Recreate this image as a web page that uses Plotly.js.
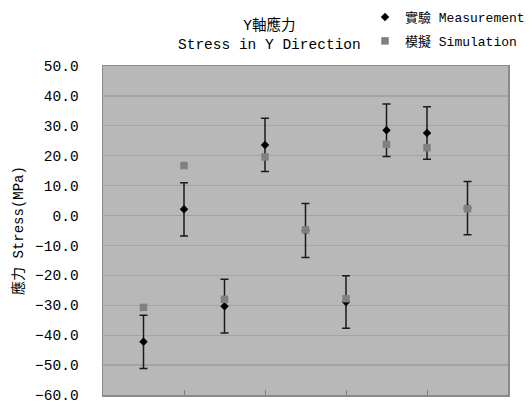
<!DOCTYPE html>
<html>
<head>
<meta charset="utf-8">
<script src="https://cdn.plot.ly/plotly-3.0.1.min.js"></script>
<style>html,body{margin:0;padding:0;background:#fff;}#chart{width:529px;height:405px;}</style>
</head>
<body>
<div id="chart"></div>
<script>
const positions = [1, 2, 3, 4, 5, 6, 7, 8, 9];
const measurement = [-42.2, 2.1, -30.3, 23.6, -5.0, -28.9, 28.5, 27.6, 2.5];
const measurementError = [8.9, 8.9, 9.0, 8.9, 9.0, 8.8, 8.8, 8.8, 8.9];
const simulation = [-30.7, 16.7, -28.0, 19.6, -4.8, -27.8, 23.8, 22.7, 2.3];
const yTicks = [-60, -50, -40, -30, -20, -10, 0, 10, 20, 30, 40, 50];
const xTicks = [0, 2, 4, 6, 8, 10];

const FONT = '"Liberation Mono", "Noto Sans CJK TC", monospace';

const traces = [
  {
    x: positions, y: measurement, name: '實驗 Measurement',
    type: 'scatter', mode: 'markers',
    marker: {symbol: 'diamond', size: 6.5, color: '#000000'},
    error_y: {type: 'data', array: measurementError, visible: true, color: '#1a1a1a', thickness: 1.5, width: 4},
    legendgroup: 'a'
  },
  {
    x: positions, y: simulation, name: '模擬 Simulation',
    type: 'scatter', mode: 'markers',
    marker: {symbol: 'square', size: 7.5, color: '#808080'},
    legendgroup: 'b'
  }
];

const layout = {
  width: 529, height: 405,
  margin: {l: 103, r: 21, t: 66, b: 10, autoexpand: false},
  paper_bgcolor: '#ffffff',
  plot_bgcolor: '#b8b8b8',
  font: {family: FONT, size: 14, color: '#000'},
  annotations: [{
    text: 'Y軸應力<br>Stress in Y Direction',
    xref: 'paper', yref: 'paper', x: 0.41, y: 1, xanchor: 'center', yanchor: 'bottom',
    yshift: 11, showarrow: false, align: 'center',
    font: {family: FONT, size: 14.5, color: '#000'}
  }],
  showlegend: true,
  legend: {
    xref: 'container', yref: 'container',
    x: 0.69, y: 0.995, xanchor: 'left', yanchor: 'top',
    bgcolor: 'rgba(0,0,0,0)',
    font: {family: FONT, size: 13, color: '#000'},
    traceorder: 'grouped', tracegroupgap: 4,
    itemwidth: 30
  },
  xaxis: {
    range: [0, 10], tickvals: xTicks, showticklabels: false,
    ticks: 'inside', ticklen: 5, tickcolor: '#808080', tickwidth: 1,
    showgrid: false, zeroline: false,
    showline: true, mirror: true, linecolor: '#8a8a8a', linewidth: 1.5
  },
  yaxis: {
    range: [-60, 50], tickvals: yTicks, tickformat: '.1f',
    ticks: '', ticklabelstandoff: 20,
    showgrid: true, gridcolor: '#a4a4a4', gridwidth: 1.2,
    zeroline: false,
    showline: true, mirror: true, linecolor: '#8a8a8a', linewidth: 1.5,
    title: {text: '應力 Stress(MPa)', standoff: 8, font: {family: FONT, size: 14, color: '#000'}},
    tickfont: {family: FONT, size: 14.5, color: '#000'}
  }
};

Plotly.newPlot('chart', traces, layout, {displayModeBar: false, staticPlot: true});
</script>
</body>
</html>
